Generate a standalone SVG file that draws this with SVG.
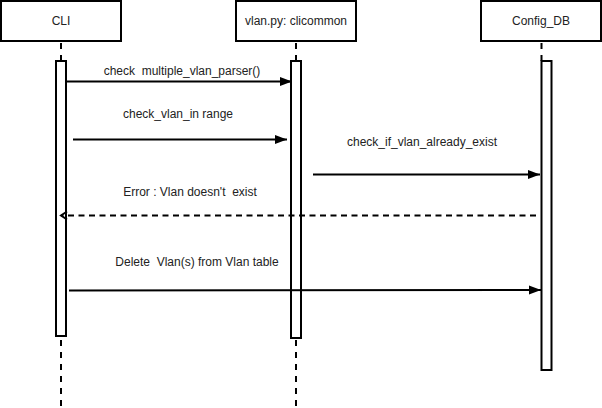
<svg xmlns="http://www.w3.org/2000/svg" width="602" height="408" viewBox="0 0 602 408">
<style>
.box{fill:#fff;stroke:#000;stroke-width:2}
.life{stroke:#000;stroke-width:2;stroke-dasharray:6 6;fill:none}
.msg{stroke:#000;stroke-width:2;fill:none}
.dash{stroke:#000;stroke-width:2;fill:none;stroke-dasharray:6 4.5}
text{font-family:"Liberation Sans",Arial,sans-serif;font-size:12px;fill:#222;text-anchor:middle;white-space:pre}
</style>
<defs>
<marker id="block" markerUnits="userSpaceOnUse" markerWidth="14" markerHeight="10" refX="12" refY="4.5" orient="auto">
<path d="M0,0 L12,4.5 L0,9 Z" fill="#000"/>
</marker>
<marker id="open" markerUnits="userSpaceOnUse" markerWidth="10" markerHeight="12" refX="7" refY="5" orient="auto">
<path d="M1,1 L7,5 L1,9" fill="none" stroke="#000" stroke-width="2"/>
</marker>
</defs>
<g id="lifelines">
<line class="life" x1="61" y1="43" x2="61" y2="61"/>
<line class="life" x1="61" y1="340" x2="61" y2="408"/>
<line class="life" x1="296" y1="43" x2="296" y2="61"/>
<line class="life" x1="296" y1="340" x2="296" y2="408"/>
<line class="life" x1="541.5" y1="43" x2="541.5" y2="61"/>
</g>
<g id="cli">
<rect class="box" x="1" y="1" width="120" height="40"/>
<text x="61" y="25">CLI</text>
<rect class="box" x="56" y="61" width="10" height="275"/>
</g>
<g id="vlanpy">
<rect class="box" x="236" y="1" width="120" height="40"/>
<text x="296" y="25">vlan.py: clicommon</text>
<rect class="box" x="291" y="61" width="10" height="277"/>
</g>
<g id="configdb">
<rect class="box" x="481" y="1" width="120" height="40"/>
<text x="541" y="25">Config_DB</text>
<rect class="box" x="541.5" y="61" width="10" height="309"/>
</g>
<g id="connectors">
<line class="msg" x1="66" y1="81.5" x2="292" y2="81.5" marker-end="url(#block)"/>
<text x="182" y="75">check  multiple_vlan_parser()</text>
<line class="msg" x1="73" y1="139.5" x2="287" y2="139.5" marker-end="url(#block)"/>
<text x="178" y="117.5">check_vlan_in range</text>
<line class="msg" x1="313" y1="174.5" x2="540" y2="174.5" marker-end="url(#block)"/>
<text x="422" y="146">check_if_vlan_already_exist</text>
<line class="dash" x1="536" y1="215.5" x2="61" y2="215.5" marker-end="url(#open)"/>
<text x="190" y="195.5">Error : Vlan doesn't  exist</text>
<line class="msg" x1="69" y1="290.5" x2="541" y2="290" marker-end="url(#block)"/>
<text x="197" y="266">Delete  Vlan(s) from Vlan table</text>
</g>
</svg>
